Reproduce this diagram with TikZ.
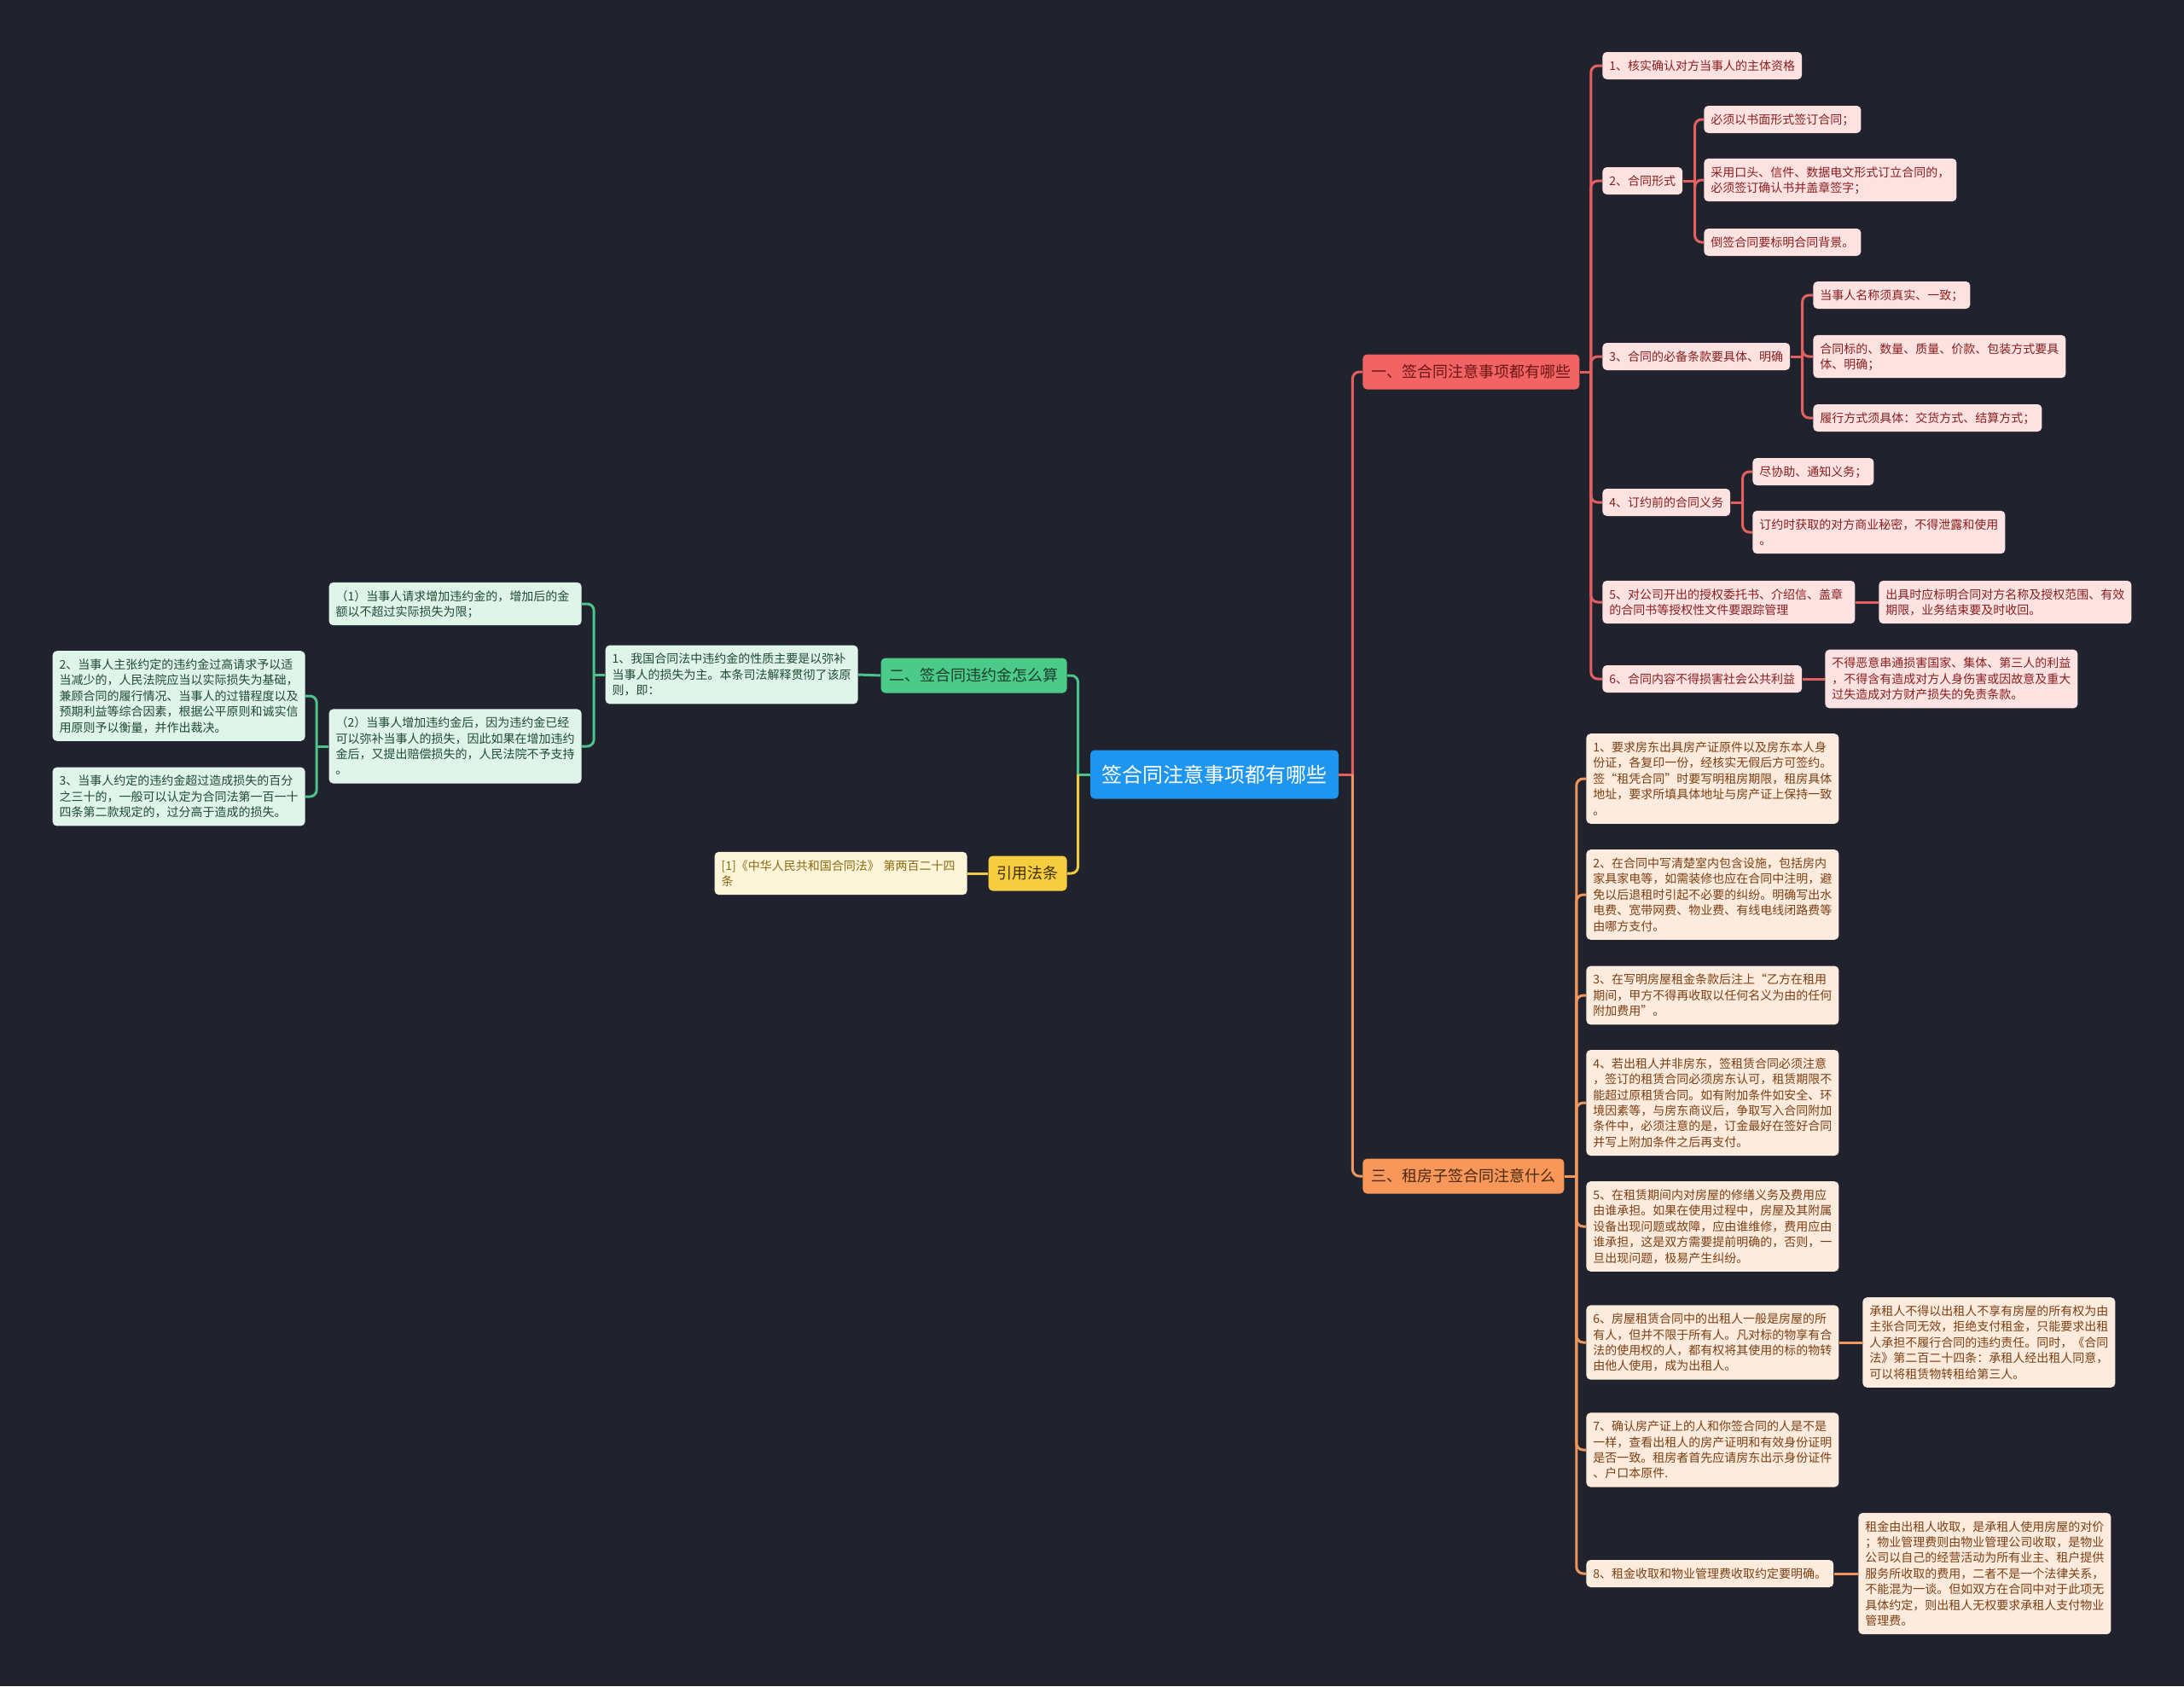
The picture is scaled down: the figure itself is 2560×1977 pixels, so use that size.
\documentclass[tikz,border=0pt]{standalone}
\usepackage{fontspec}
\setmainfont{Noto Sans CJK SC}
\definecolor{bg}{HTML}{20232E}
\definecolor{rootc}{HTML}{1E95EE}
\definecolor{redb}{HTML}{F26464}
\definecolor{redt}{HTML}{6E1515}
\definecolor{redl}{HTML}{FDE2E2}
\definecolor{redlt}{HTML}{8A1E1E}
\definecolor{redc}{HTML}{E4605F}
\definecolor{orb}{HTML}{F8975A}
\definecolor{ort}{HTML}{4A2A10}
\definecolor{orl}{HTML}{FDEBDD}
\definecolor{orlt}{HTML}{7B3F13}
\definecolor{orc}{HTML}{EF965C}
\definecolor{grb}{HTML}{4CCA8A}
\definecolor{grt}{HTML}{1B3F2C}
\definecolor{grl}{HTML}{DFF5E9}
\definecolor{grlt}{HTML}{1F4A33}
\definecolor{grc}{HTML}{4CC38B}
\definecolor{yeb}{HTML}{F6CD3E}
\definecolor{yet}{HTML}{3E2F00}
\definecolor{yel}{HTML}{FDF5DA}
\definecolor{yelt}{HTML}{8A6A10}
\definecolor{yec}{HTML}{F2C945}
\newcommand\leafstrut{\rule[-1.95pt]{0pt}{9.2pt}}
\newcommand\branchstrut{\rule[-2.1pt]{0pt}{11pt}}
\newcommand\rootstrut{\rule[-2.45pt]{0pt}{14pt}}
\begin{document}
\begin{tikzpicture}[x=0.5pt,y=-0.5pt,
  every node/.style={rounded corners=2.5pt},
  leaf/.style={font=\fontsize{7}{9.2}\selectfont, inner xsep=4pt, inner ysep=3.4pt, align=left,
    execute at begin node=\leafstrut, execute at end node=\leafstrut},
  wide/.style={text width=140pt},
  branch/.style={font=\fontsize{9}{11}\selectfont, inner xsep=5pt, inner ysep=4.75pt,
    execute at begin node=\branchstrut},
  rootbox/.style={font=\fontsize{12}{14}\selectfont, inner xsep=6.75pt, inner ysep=7.25pt, fill=rootc, text=white,
    execute at begin node=\rootstrut},
  rl/.style={leaf, fill=redl, text=redlt},
  ol/.style={leaf, fill=orl, text=orlt},
  gl/.style={leaf, fill=grl, text=grlt},
  yl/.style={leaf, fill=yel, text=yelt},
  conn/.style={line width=1.5pt, rounded corners=4pt},
  rc/.style={conn, draw=redc},
  oc/.style={conn, draw=orc},
  gc/.style={conn, draw=grc},
  yc/.style={conn, draw=yec}]
\fill[bg] (0,0) rectangle (2560,1977);
\useasboundingbox (0,0) rectangle (2560,1977);

% root and branches
\node[rootbox] (root) at (1423.5,908) {签合同注意事项都有哪些};
\node[branch, fill=redb, text=redt, anchor=west] (b1) at (1597,436) {一、签合同注意事项都有哪些};
\node[branch, fill=orb, text=ort, anchor=west] (b3) at (1597,1379) {三、租房子签合同注意什么};
\node[branch, fill=grb, text=grt, anchor=east] (b2) at (1251,792) {二、签合同违约金怎么算};
\node[branch, fill=yeb, text=yet, anchor=east] (by) at (1251,1024) {引用法条};

% red subtree
\node[rl, anchor=west] (n1) at (1878,77) {1、核实确认对方当事人的主体资格};
\node[rl, anchor=west] (n2) at (1878,212) {2、合同形式};
\node[rl, anchor=west] (n2a) at (1997,140) {必须以书面形式签订合同；};
\node[rl, wide, anchor=west] (n2b) at (1997,211) {采用口头、信件、数据电文形式订立合同的，\\必须签订确认书并盖章签字；};
\node[rl, anchor=west] (n2c) at (1997,284) {倒签合同要标明合同背景。};
\node[rl, anchor=west] (n3) at (1878,418) {3、合同的必备条款要具体、明确};
\node[rl, anchor=west] (n3a) at (2125,346) {当事人名称须真实、一致；};
\node[rl, wide, anchor=west] (n3b) at (2125,418) {合同标的、数量、质量、价款、包装方式要具\\体、明确；};
\node[rl, anchor=west] (n3c) at (2125,490) {履行方式须具体：交货方式、结算方式；};
\node[rl, anchor=west] (n4) at (1878,589) {4、订约前的合同义务};
\node[rl, anchor=west] (n4a) at (2054,553) {尽协助、通知义务；};
\node[rl, wide, anchor=west] (n4b) at (2054,624) {订约时获取的对方商业秘密，不得泄露和使用\\。};
\node[rl, wide, anchor=west] (n5) at (1878,706) {5、对公司开出的授权委托书、介绍信、盖章\\的合同书等授权性文件要跟踪管理};
\node[rl, wide, anchor=west] (n5a) at (2202,706) {出具时应标明合同对方名称及授权范围、有效\\期限，业务结束要及时收回。};
\node[rl, anchor=west] (n6) at (1878,796) {6、合同内容不得损害社会公共利益};
\node[rl, wide, anchor=west] (n6a) at (2139,796) {不得恶意串通损害国家、集体、第三人的利益\\，不得含有造成对方人身伤害或因故意及重大\\过失造成对方财产损失的免责条款。};

% orange subtree
\node[ol, wide, anchor=west] (r1) at (1859,913) {1、要求房东出具房产证原件以及房东本人身\\份证，各复印一份，经核实无假后方可签约。\\签“租凭合同”时要写明租房期限，租房具体\\地址，要求所填具体地址与房产证上保持一致\\。};
\node[ol, wide, anchor=west] (r2) at (1859,1049) {2、在合同中写清楚室内包含设施，包括房内\\家具家电等，如需装修也应在合同中注明，避\\免以后退租时引起不必要的纠纷。明确写出水\\电费、宽带网费、物业费、有线电线闭路费等\\由哪方支付。};
\node[ol, wide, anchor=west] (r3) at (1859,1167) {3、在写明房屋租金条款后注上“乙方在租用\\期间，甲方不得再收取以任何名义为由的任何\\附加费用”。};
\node[ol, wide, anchor=west] (r4) at (1859,1293) {4、若出租人并非房东，签租赁合同必须注意\\，签订的租赁合同必须房东认可，租赁期限不\\能超过原租赁合同。如有附加条件如安全、环\\境因素等，与房东商议后，争取写入合同附加\\条件中，必须注意的是，订金最好在签好合同\\并写上附加条件之后再支付。};
\node[ol, wide, anchor=west] (r5) at (1859,1438) {5、在租赁期间内对房屋的修缮义务及费用应\\由谁承担。如果在使用过程中，房屋及其附属\\设备出现问题或故障，应由谁维修，费用应由\\谁承担，这是双方需要提前明确的，否则，一\\旦出现问题，极易产生纠纷。};
\node[ol, wide, anchor=west] (r6) at (1859,1574) {6、房屋租赁合同中的出租人一般是房屋的所\\有人，但并不限于所有人。凡对标的物享有合\\法的使用权的人，都有权将其使用的标的物转\\由他人使用，成为出租人。};
\node[ol, wide, anchor=west] (r6a) at (2183,1574) {承租人不得以出租人不享有房屋的所有权为由\\主张合同无效，拒绝支付租金，只能要求出租\\人承担不履行合同的违约责任。同时，《合同\\法》第二百二十四条：承租人经出租人同意，\\可以将租赁物转租给第三人。};
\node[ol, wide, anchor=west] (r7) at (1859,1700) {7、确认房产证上的人和你签合同的人是不是\\一样，查看出租人的房产证明和有效身份证明\\是否一致。租房者首先应请房东出示身份证件\\、户口本原件.};
\node[ol, anchor=west] (r8) at (1859,1845) {8、租金收取和物业管理费收取约定要明确。};
\node[ol, wide, anchor=west] (r8a) at (2178,1845) {租金由出租人收取，是承租人使用房屋的对价\\；物业管理费则由物业管理公司收取，是物业\\公司以自己的经营活动为所有业主、租户提供\\服务所收取的费用，二者不是一个法律关系，\\不能混为一谈。但如双方在合同中对于此项无\\具体约定，则出租人无权要求承租人支付物业\\管理费。};

% green subtree
\node[gl, wide, anchor=east] (g1) at (1006,791) {1、我国合同法中违约金的性质主要是以弥补\\当事人的损失为主。本条司法解释贯彻了该原\\则，即：};
\node[gl, wide, anchor=east] (g1a) at (682,708) {（1）当事人请求增加违约金的，增加后的金\\额以不超过实际损失为限；};
\node[gl, wide, anchor=east] (g1b) at (682,875) {（2）当事人增加违约金后，因为违约金已经\\可以弥补当事人的损失，因此如果在增加违约\\金后，又提出赔偿损失的，人民法院不予支持\\。};
\node[gl, wide, anchor=east] (g2) at (358,816) {2、当事人主张约定的违约金过高请求予以适\\当减少的，人民法院应当以实际损失为基础，\\兼顾合同的履行情况、当事人的过错程度以及\\预期利益等综合因素，根据公平原则和诚实信\\用原则予以衡量，并作出裁决。};
\node[gl, wide, anchor=east] (g3) at (358,934) {3、当事人约定的违约金超过造成损失的百分\\之三十的，一般可以认定为合同法第一百一十\\四条第二款规定的，过分高于造成的损失。};

% yellow subtree
\node[yl, wide, anchor=east] (y1) at (1134,1024) {[1]《中华人民共和国合同法》 第两百二十四\\条};

% connectors: root
\draw[line width=1.5pt, draw=redc] (root.east) -- ++(8pt,0) coordinate (rootR);
\draw[rc] (rootR) |- (b1.west);
\draw[oc] (rootR) |- (b3.west);
\draw[line width=1.5pt, draw=grc] (root.west) -- ++(-7pt,0) coordinate (rootL);
\draw[gc] (rootL) |- (b2.east);
\draw[yc] (rootL) |- (by.east);

% red connectors
\draw[line width=1.5pt, draw=redc] (b1.east) -- ++(6.5pt,0) coordinate (b1j);
\foreach \c in {n1,n2,n3,n4,n5,n6} \draw[rc] (b1j) |- (\c.west);
\draw[line width=1.5pt, draw=redc] (n2.east) -- ++(7pt,0) coordinate (n2j);
\foreach \c in {n2a,n2b,n2c} \draw[rc] (n2j) |- (\c.west);
\draw[line width=1.5pt, draw=redc] (n3.east) -- ++(7pt,0) coordinate (n3j);
\foreach \c in {n3a,n3b,n3c} \draw[rc] (n3j) |- (\c.west);
\draw[line width=1.5pt, draw=redc] (n4.east) -- ++(7pt,0) coordinate (n4j);
\foreach \c in {n4a,n4b} \draw[rc] (n4j) |- (\c.west);
\draw[rc] (n5.east) -- (n5a.west);
\draw[rc] (n6.east) -- (n6a.west);

% orange connectors
\draw[line width=1.5pt, draw=orc] (b3.east) -- ++(7pt,0) coordinate (b3j);
\foreach \c in {r1,r2,r3,r4,r5,r6,r7,r8} \draw[oc] (b3j) |- (\c.west);
\draw[oc] (r6.east) -- (r6a.west);
\draw[oc] (r8.east) -- (r8a.west);

% green connectors
\draw[gc] (b2.west) -- (g1.east);
\draw[line width=1.5pt, draw=grc] (g1.west) -- ++(-6.5pt,0) coordinate (g1j);
\foreach \c in {g1a,g1b} \draw[gc] (g1j) |- (\c.east);
\draw[line width=1.5pt, draw=grc] (g1b.west) -- ++(-7pt,0) coordinate (g1bj);
\foreach \c in {g2,g3} \draw[gc] (g1bj) |- (\c.east);

% yellow connector
\draw[yc] (by.west) -- (y1.east);
\end{tikzpicture}
\end{document}
